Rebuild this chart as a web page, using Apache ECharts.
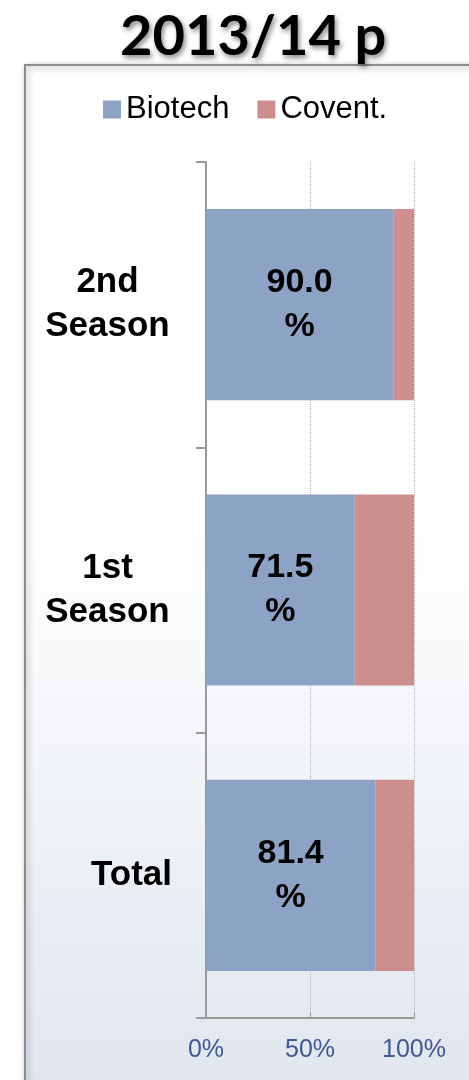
<!DOCTYPE html>
<html>
<head>
<meta charset="utf-8">
<script src="https://cdn.jsdelivr.net/npm/echarts@6/dist/echarts.min.js"></script>
<style>
  html, body { margin: 0; padding: 0; background: #fff; }
  #main { width: 469px; height: 1080px; }
</style>
</head>
<body>
<div id="main"></div>
<script>
// 数据
var categories = ['Total', '1st\nSeason', '2nd\nSeason'];
var biotech = [81.4, 71.5, 90.0];
var convent = [18.6, 28.5, 10.0];
var xTicks = [0, 50, 100];

var myChart = echarts.init(document.getElementById('main'));
var font = 'Liberation Sans, Arial, sans-serif';

myChart.setOption({
  animation: false,
  title: {
    text: '2013/14 p',
    left: 115,
    top: 4,
    textStyle: {
      fontFamily: 'Lato, sans-serif',
      fontWeight: 'bold',
      fontSize: 56,
      color: '#000',
      textShadowColor: 'rgba(0,0,0,0.45)',
      textShadowBlur: 5,
      textShadowOffsetX: 2,
      textShadowOffsetY: 3
    }
  },
  // 面板背景和边框
  graphic: [{
    type: 'rect',
    z: -10,
    shape: { x: 25, y: 65, width: 470, height: 1040 },
    style: {
      fill: new echarts.graphic.LinearGradient(0, 0, 0, 1, [
        { offset: 0, color: '#ffffff' },
        { offset: 0.45, color: '#ffffff' },
        { offset: 1, color: '#dfe5ee' }
      ]),
      stroke: '#8c8c8c',
      lineWidth: 2,
      shadowBlur: 6,
      shadowColor: 'rgba(0,0,0,0.35)',
      shadowOffsetX: 2,
      shadowOffsetY: 2
    }
  }],
  legend: {
    left: 98,
    top: 89,
    itemWidth: 18,
    itemHeight: 18,
    itemGap: 28,
    icon: 'rect',
    data: ['Biotech', 'Covent.'],
    textStyle: { fontFamily: font, fontSize: 31, color: '#000' }
  },
  grid: { left: 206, right: 55, top: 162, bottom: 62 },
  xAxis: {
    type: 'value',
    min: 0,
    max: 100,
    interval: 50,
    axisLine: { show: true, lineStyle: { color: '#999', width: 2 } },
    axisTick: { show: true, inside: true, length: 5, lineStyle: { color: '#999' } },
    splitLine: { show: true, lineStyle: { color: '#aaa', type: 'dotted', width: 1 } },
    axisLabel: {
      margin: 20,
      fontFamily: font,
      fontSize: 25,
      color: '#3f5797',
      formatter: function (v) { return v + '%'; },
      customValues: xTicks
    }
  },
  yAxis: {
    type: 'category',
    data: categories,
    axisLine: { show: true, lineStyle: { color: '#999', width: 2 } },
    axisTick: { show: true, length: 10, lineStyle: { color: '#999', width: 2 } },
    axisLabel: {
      margin: 34,
      fontFamily: font,
      fontSize: 35,
      fontWeight: 'bold',
      color: '#000',
      lineHeight: 44,
      formatter: function (v) {
        if (v.indexOf('\n') >= 0) {
          return v.split('\n').map(function (s) { return '{m|' + s + '}'; }).join('\n');
        }
        return '{t|' + v + '}';
      },
      rich: {
        m: { width: 129, align: 'center', fontFamily: font, fontSize: 35, fontWeight: 'bold', color: '#000', lineHeight: 44 },
        t: { fontFamily: font, fontSize: 35, fontWeight: 'bold', color: '#000', lineHeight: 44 }
      }
    }
  },
  series: [
    {
      name: 'Biotech',
      type: 'bar',
      stack: 'total',
      barCategoryGap: '33%',
      itemStyle: { color: '#8da3c5' },
      label: {
        show: true,
        position: 'inside',
        fontFamily: font,
        fontSize: 34,
        fontWeight: 'bold',
        color: '#000',
        lineHeight: 44,
        formatter: function (p) { return p.value.toFixed(1) + '\n%'; }
      },
      data: biotech
    },
    {
      name: 'Covent.',
      type: 'bar',
      stack: 'total',
      barCategoryGap: '33%',
      itemStyle: { color: '#cd8e8e' },
      data: convent
    }
  ]
});
</script>
</body>
</html>
